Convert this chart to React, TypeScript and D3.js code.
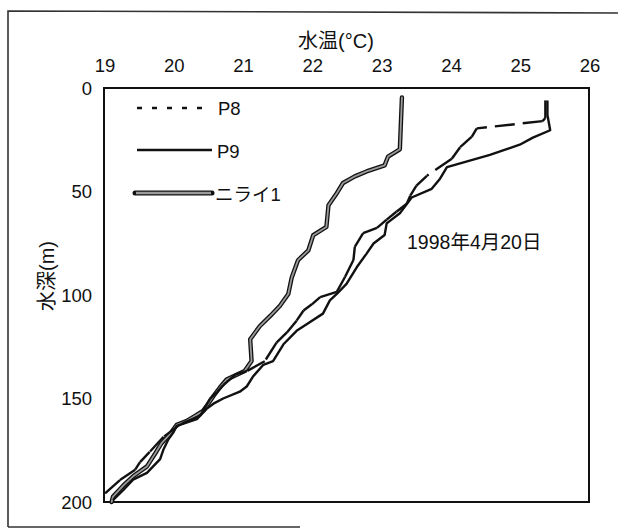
import React from "react";
import * as d3 from "d3";

// [depth (m), temperature (°C)]
const p8: [number, number][] = [
  [6.0, 25.37], [14.5, 25.37], [16.0, 25.33], [19.5, 24.38], [23.5, 24.31], [28.6, 24.14],
  [34.2, 24.02], [42.4, 23.66], [47.2, 23.51], [52.0, 23.42], [55.9, 23.37], [59.8, 23.22],
  [63.6, 23.08], [67.6, 22.94], [70.1, 22.74], [76.7, 22.62], [83.1, 22.6], [91.2, 22.48],
  [98.5, 22.36], [101.0, 22.12], [104.5, 22.0], [107.5, 21.88], [112.4, 21.78], [118.1, 21.64],
  [123.0, 21.49], [132.0, 21.32], [136.8, 21.06], [138.3, 20.9], [143.6, 20.72], [146.9, 20.63],
  [150.2, 20.53], [158.3, 20.39], [162.5, 20.1], [168.5, 19.86], [175.8, 19.66], [180.7, 19.52],
  [184.4, 19.45], [189.4, 19.23], [196.0, 19.01],
];

const p9: [number, number][] = [
  [6.0, 25.4], [13.0, 25.4], [20.4, 25.44], [24.0, 25.19], [27.4, 25.0], [32.3, 24.57],
  [38.2, 23.95], [43.8, 23.85], [48.7, 23.73], [52.9, 23.44], [60.5, 23.27], [65.4, 23.08],
  [71.0, 23.05], [75.1, 22.89], [80.0, 22.79], [86.5, 22.65], [94.6, 22.5], [99.5, 22.36],
  [102.6, 22.26], [109.0, 22.16], [114.0, 21.93], [117.3, 21.78], [123.8, 21.59], [131.9, 21.44],
  [133.7, 21.3], [139.4, 21.15], [144.2, 21.06], [146.7, 20.96], [150.0, 20.72], [152.5, 20.58],
  [155.0, 20.48], [160.0, 20.34], [163.2, 20.05], [166.5, 20.0], [169.7, 19.93], [174.5, 19.86],
  [179.3, 19.81], [185.9, 19.62], [189.2, 19.42], [194.2, 19.28], [199.1, 19.13],
];

const nirai1: [number, number][] = [
  [4.6, 23.3], [29.6, 23.27], [33.1, 23.1], [37.4, 23.05], [40.3, 22.79], [42.7, 22.62],
  [45.9, 22.45], [50.8, 22.36], [56.6, 22.24], [67.1, 22.21], [71.1, 22.02], [78.4, 21.95],
  [83.2, 21.8], [91.5, 21.71], [99.5, 21.66], [105.2, 21.54], [110.1, 21.4], [115.0, 21.25],
  [121.4, 21.11], [131.9, 21.13], [136.7, 21.03], [140.8, 20.77], [144.8, 20.67], [148.8, 20.58],
  [152.8, 20.5], [156.0, 20.43], [158.5, 20.31], [160.9, 20.19], [162.7, 20.05], [167.3, 19.95],
  [171.6, 19.83], [176.5, 19.74], [182.8, 19.62], [187.6, 19.42], [192.0, 19.28], [197.4, 19.13],
  [200.0, 19.11],
];

const xTicks = [19, 20, 21, 22, 23, 24, 25, 26];
const yTicks = [0, 50, 100, 150, 200];
const seriesNames = ["P8", "P9", "ニライ1"];
const xTitle = "水温(°C)";
const yTitle = "水深(m)";
const dateNote = "1998年4月20日";

const W = 618;
const H = 529;
const L = 104, R = 589, T = 88, B = 502;
const FONT = "'Liberation Sans', Arial, 'Noto Sans CJK JP', sans-serif";
const INK = "#111";
const GRAY = "#9a9a9a";

export default function App() {
  const x = d3.scaleLinear().domain([19, 26]).range([L, R]);
  const y = d3.scaleLinear().domain([0, 200]).range([T, B]);
  const line = d3
    .line<[number, number]>()
    .x((d) => x(d[1]))
    .y((d) => y(d[0]));

  const p8Segments = d3.pairs(p8);

  return (
    <svg
      width={W}
      height={H}
      viewBox={`0 0 ${W} ${H}`}
      style={{ position: "absolute", left: 0, top: 0, background: "#fff" }}
    >
      <rect x={0} y={0} width={W} height={H} fill="#fff" />
      {/* outer frame */}
      <path d={`M8,527 L8,11 L618,13`} fill="none" stroke="#333" strokeWidth={1.6} />
      <path d={`M8,527 L300,527`} fill="none" stroke="#333" strokeWidth={1.6} />

      {/* x title */}
      <text x={336} y={48} fontFamily={FONT} fontSize={20} textAnchor="middle" fill={INK}>
        {xTitle}
      </text>
      {/* x tick labels */}
      {xTicks.map((t) => (
        <text key={t} x={x(t) + 1} y={72} fontFamily={FONT} fontSize={18.5} textAnchor="middle" fill={INK}>
          {t}
        </text>
      ))}
      {/* y tick labels */}
      {yTicks.map((t) => (
        <text key={t} x={92} y={y(t) + 6.5} fontFamily={FONT} fontSize={18.5} textAnchor="end" fill={INK}>
          {t}
        </text>
      ))}
      {/* y title */}
      <text
        transform={`translate(54,276) rotate(-90)`}
        fontFamily={FONT}
        fontSize={20}
        textAnchor="middle"
        fill={INK}
      >
        {yTitle}
      </text>

      {/* plot box */}
      <rect x={L} y={T} width={R - L} height={B - T} fill="none" stroke={INK} strokeWidth={2} />

      {/* series ニライ1 */}
      <path d={line(nirai1) || ""} fill="none" stroke={INK} strokeWidth={4.4} strokeLinejoin="round" strokeLinecap="round" />
      <path d={line(nirai1) || ""} fill="none" stroke={GRAY} strokeWidth={1.8} strokeLinejoin="round" strokeLinecap="round" />
      {/* series P9 */}
      <path d={line(p9) || ""} fill="none" stroke={INK} strokeWidth={2.4} strokeLinejoin="round" />
      {/* series P8: dash pattern restarts on each segment */}
      {p8Segments.map((s, i) => (
        <path
          key={i}
          d={line([s[0], s[1]]) || ""}
          fill="none"
          stroke={INK}
          strokeWidth={2.4}
          strokeDasharray="20,8"
        />
      ))}

      {/* legend */}
      <line x1={137} x2={205} y1={108} y2={108} stroke={INK} strokeWidth={2.6} strokeDasharray="5,10" />
      <text x={218} y={114.5} fontFamily={FONT} fontSize={18.5} fill={INK}>
        {seriesNames[0]}
      </text>
      <line x1={137} x2={212} y1={150} y2={150} stroke={INK} strokeWidth={2.4} />
      <text x={217} y={157.5} fontFamily={FONT} fontSize={18.5} fill={INK}>
        {seriesNames[1]}
      </text>
      <line x1={135} x2={212} y1={193} y2={193} stroke={INK} strokeWidth={5} strokeLinecap="round" />
      <line x1={136} x2={211} y1={193} y2={193} stroke={GRAY} strokeWidth={2.4} />
      <text x={215} y={200.5} fontFamily={FONT} fontSize={18.5} fill={INK}>
        {seriesNames[2]}
      </text>

      {/* annotation */}
      <text x={407} y={249} fontFamily={FONT} fontSize={19.5} fill={INK}>
        {dateNote}
      </text>
    </svg>
  );
}
